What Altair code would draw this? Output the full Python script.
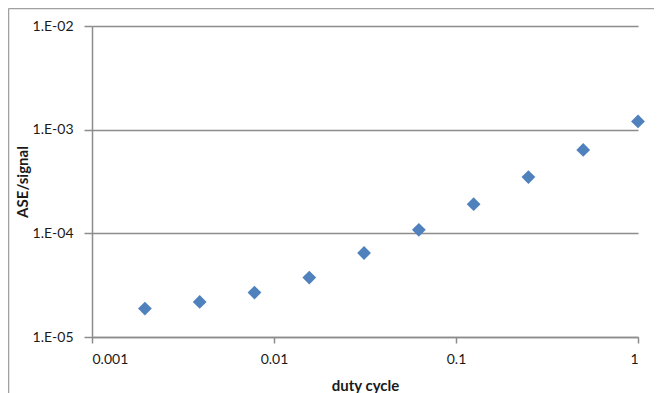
import altair as alt
import pandas as pd

duty_cycle = [1/512, 1/256, 1/128, 1/64, 1/32, 1/16, 1/8, 1/4, 1/2, 1.0]
ase_signal = [1.88e-5, 2.18e-5, 2.68e-5, 3.74e-5, 6.46e-5, 1.08e-4, 1.91e-4, 3.49e-4, 6.37e-4, 1.20e-3]
x_ticks = [0.001, 0.01, 0.1, 1]
y_ticks = [1e-5, 1e-4, 1e-3, 1e-2]

df = pd.DataFrame({"duty": duty_cycle, "ase": ase_signal})

W, H = 546, 311
FONT = "Lato"
FRAME = "#a0a0a0"

one = pd.DataFrame({"a": [0]})
top_line = alt.Chart(one).mark_rule(color=FRAME, strokeWidth=1.5).encode(
    x=alt.value(-83.5), x2=alt.value(W + 100), y=alt.value(-17.5)
)
left_line = alt.Chart(one).mark_rule(color=FRAME, strokeWidth=1.5).encode(
    x=alt.value(-83.5), y=alt.value(-17.5), y2=alt.value(H + 100)
)

points = alt.Chart(df).mark_point(
    shape="diamond", filled=True, size=190, color="#4F81BD", opacity=1
).encode(
    x=alt.X("duty:Q", scale=alt.Scale(type="log", domain=[0.001, 1]),
            axis=alt.Axis(values=x_ticks, format="~g", title="duty cycle",
                          grid=False, tickSize=6, labelPadding=9,
                          titleY=53, titleBaseline="alphabetic",
                          titleFontSize=15)),
    y=alt.Y("ase:Q", scale=alt.Scale(type="log", domain=[1e-5, 1e-2]),
            axis=alt.Axis(values=y_ticks, title="ASE/signal",
                          labelExpr="'1.E-0' + round(-log(datum.value)/LN10)",
                          grid=True, tickSize=8, labelPadding=11,
                          titlePadding=2, titleFontSize=15)),
)

chart = alt.layer(top_line, left_line, points).properties(
    width=W, height=H,
    autosize=alt.AutoSizeParams(type="none"),
    padding={"left": 84, "top": 18, "right": 16, "bottom": 56},
    background="white",
).configure_view(stroke=None).configure_axis(
    labelFont=FONT, labelFontSize=14, labelColor="#1a1a1a",
    titleFont=FONT, titleFontSize=14, titleFontWeight="bold", titleColor="#1a1a1a",
    domainColor="#8c8c8c", domainWidth=1.5,
    tickColor="#8c8c8c", tickWidth=1.5,
    gridColor="#8c8c8c", gridWidth=1.5, gridOpacity=1,
)

chart.save("out.html", embed_options={"renderer": "svg", "actions": False})
